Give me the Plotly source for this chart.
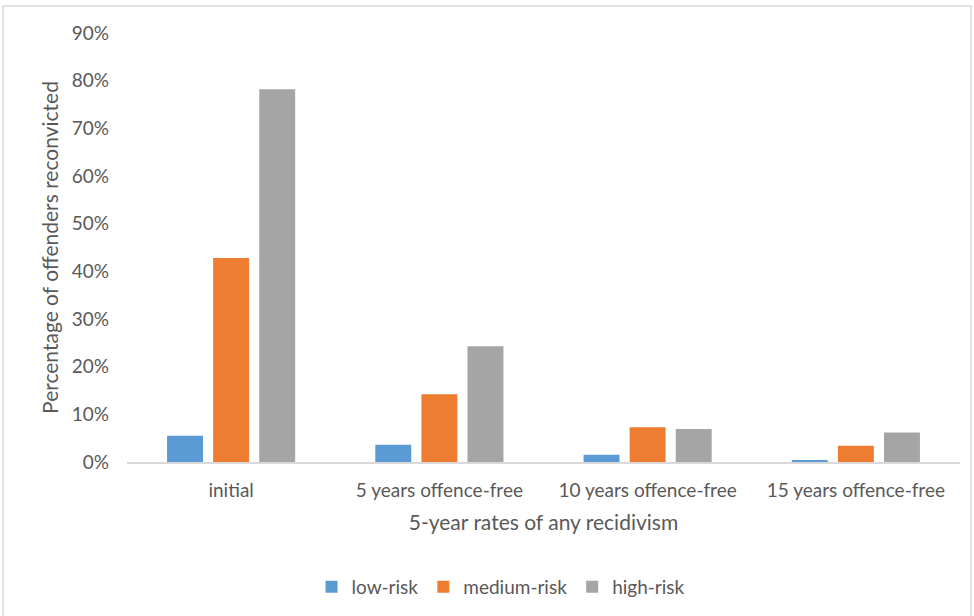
import plotly.graph_objects as go

# Reconviction rates by time offence-free and risk level
categories = ["initial", "5 years offence-free", "10 years offence-free", "15 years offence-free"]
low_risk = [0.055, 0.036, 0.015, 0.003]
medium_risk = [0.428, 0.142, 0.073, 0.034]
high_risk = [0.782, 0.243, 0.069, 0.062]
y_ticks = [0, 0.1, 0.2, 0.3, 0.4, 0.5, 0.6, 0.7, 0.8, 0.9]

FONT = "Lato"
TEXT_GRAY = "#595959"
PLOT_W, PLOT_H = 833, 429

fig = go.Figure()
for name, vals, color in [
    ("low-risk", low_risk, "#5B9BD5"),
    ("medium-risk", medium_risk, "#ED7D31"),
    ("high-risk", high_risk, "#A5A5A5"),
]:
    fig.add_trace(go.Bar(x=categories, y=vals, name=name, marker=dict(color=color, line=dict(width=0))))

fig.update_layout(
    width=974, height=616,
    margin=dict(l=127, r=14, t=33, b=154, autoexpand=False),
    paper_bgcolor="white", plot_bgcolor="white",
    barmode="group", bargap=0.336, bargroupgap=0.22,
    font=dict(family=FONT, color=TEXT_GRAY, size=19),
    showlegend=True,
    legend=dict(orientation="h", x=0.449, xanchor="center", y=-125 / PLOT_H, yanchor="middle",
                font=dict(size=19, color=TEXT_GRAY), itemwidth=30, traceorder="normal"),
    xaxis=dict(
        showgrid=False, showline=True, linecolor="#D9D9D9", linewidth=1.5,
        ticks="", tickfont=dict(size=19, color=TEXT_GRAY), ticklabelstandoff=10,
        title=dict(text="5-year rates of any recidivism", font=dict(size=21, color=TEXT_GRAY), standoff=16),
    ),
    yaxis=dict(
        range=[0, 0.9], tickvals=y_ticks, tickformat=".0%",
        showgrid=False, showline=False, zeroline=False, ticks="",
        tickfont=dict(size=19, color=TEXT_GRAY), ticklabelstandoff=17,
        title=dict(text="Percentage of offenders reconvicted", font=dict(size=21, color=TEXT_GRAY), standoff=7),
    ),
    shapes=[dict(type="rect", xref="paper", yref="paper",
                 x0=-124 / PLOT_W, x1=1 + 11 / PLOT_W, y0=-160 / PLOT_H, y1=1 + 27 / PLOT_H,
                 line=dict(color="#D9D9D9", width=1.5), fillcolor="rgba(0,0,0,0)", layer="below")],
)

fig.write_html("out.html")
